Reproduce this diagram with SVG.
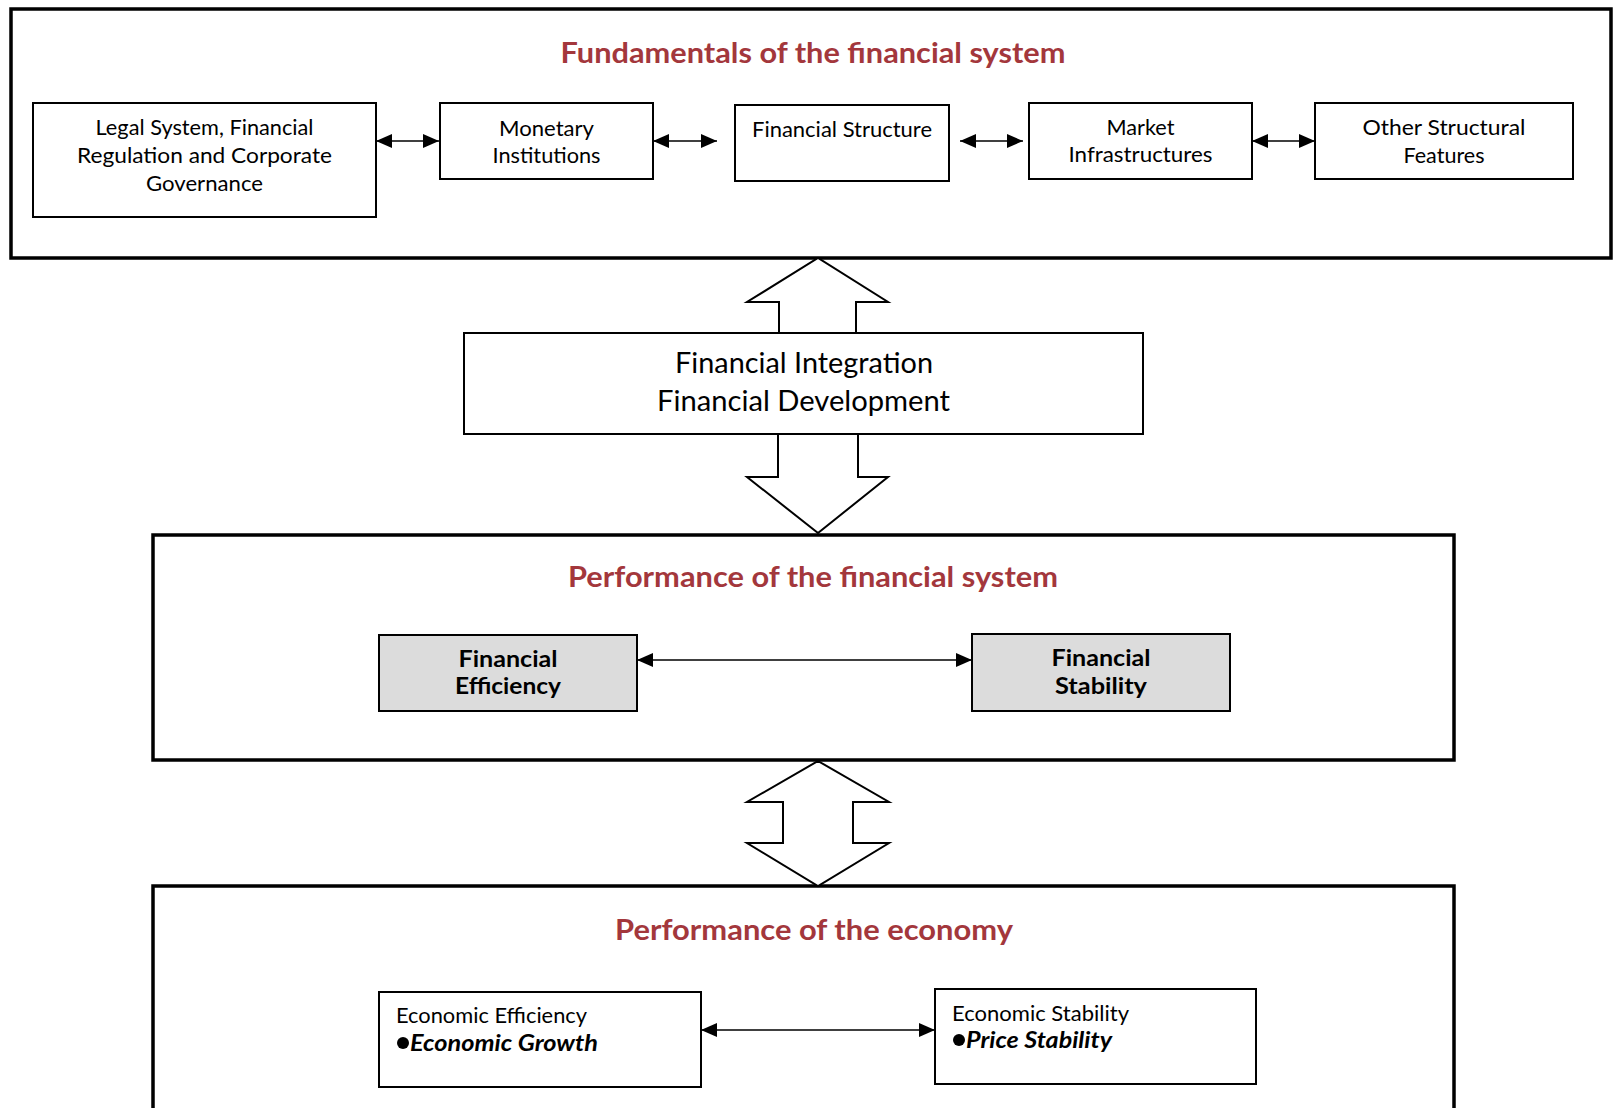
<svg xmlns="http://www.w3.org/2000/svg" width="1614" height="1108" viewBox="0 0 1614 1108">
<defs>
<marker id="ah" markerUnits="userSpaceOnUse" markerWidth="16" markerHeight="14" refX="16" refY="7" orient="auto-start-reverse" viewBox="0 0 16 14">
<path d="M0,0 L16,7 L0,14 z" fill="#000"/>
</marker>
<style>
.frame{fill:none;stroke:#000;stroke-width:3.5}
.box{fill:#fff;stroke:#000;stroke-width:2}
.gbox{fill:#dcdcdc;stroke:#000;stroke-width:2}
.big{fill:#fff;stroke:#000;stroke-width:2}
.conn{stroke:#000;stroke-width:1.6;fill:none;marker-start:url(#ah);marker-end:url(#ah)}
.t{font-family:Lato,"Noto Sans","Liberation Sans",sans-serif;fill:#000;text-anchor:middle}
.n{font-size:22px}
.title{font-size:28px;font-weight:bold;fill:#a3373c}
.b{font-weight:bold}
.l{text-anchor:start}
.bul{fill:#000}
</style>
</defs>
<rect width="1614" height="1108" fill="#fff"/>

<g id="fundamentals">
<rect class="frame" x="11" y="9" width="1600" height="249"/>
<text class="t title" x="813" y="63" textLength="505" lengthAdjust="spacingAndGlyphs">Fundamentals of the financial system</text>
</g>

<g id="legal">
<rect class="box" x="33" y="103" width="343" height="114"/>
<text class="t n" x="204.5" y="135" textLength="218" lengthAdjust="spacingAndGlyphs">Legal System, Financial</text>
<text class="t n" x="204.5" y="163" textLength="255" lengthAdjust="spacingAndGlyphs">Regulation and Corporate</text>
<text class="t n" x="204.5" y="191" textLength="117" lengthAdjust="spacingAndGlyphs">Governance</text>
</g>

<g id="monetary">
<rect class="box" x="440" y="103" width="213" height="76"/>
<text class="t n" x="546.5" y="136" textLength="95" lengthAdjust="spacingAndGlyphs">Monetary</text>
<text class="t n" x="546.5" y="163" textLength="108" lengthAdjust="spacingAndGlyphs">Institutions</text>
</g>

<g id="structure">
<rect class="box" x="735" y="105" width="214" height="76"/>
<text class="t n" x="842" y="137" textLength="180" lengthAdjust="spacingAndGlyphs">Financial Structure</text>
</g>

<g id="market">
<rect class="box" x="1029" y="103" width="223" height="76"/>
<text class="t n" x="1140.5" y="135" textLength="68" lengthAdjust="spacingAndGlyphs">Market</text>
<text class="t n" x="1140.5" y="162" textLength="144" lengthAdjust="spacingAndGlyphs">Infrastructures</text>
</g>

<g id="other">
<rect class="box" x="1315" y="103" width="258" height="76"/>
<text class="t n" x="1444" y="135" textLength="163" lengthAdjust="spacingAndGlyphs">Other Structural</text>
<text class="t n" x="1444" y="163" textLength="81" lengthAdjust="spacingAndGlyphs">Features</text>
</g>

<g id="integration">
<rect class="box" x="464" y="333" width="679" height="101"/>
<text class="t" font-size="29" x="804" y="373" textLength="258" lengthAdjust="spacingAndGlyphs">Financial Integration</text>
<text class="t" font-size="29" x="803.5" y="411" textLength="293" lengthAdjust="spacingAndGlyphs">Financial Development</text>
</g>

<g id="performance-financial">
<rect class="frame" x="153" y="535" width="1301" height="225"/>
<text class="t title" x="813" y="587" textLength="490" lengthAdjust="spacingAndGlyphs">Performance of the financial system</text>
</g>

<g id="efficiency">
<rect class="gbox" x="379" y="635" width="258" height="76"/>
<text class="t n b" x="508" y="667" textLength="99" lengthAdjust="spacingAndGlyphs">Financial</text>
<text class="t n b" x="508" y="694" textLength="106" lengthAdjust="spacingAndGlyphs">Efficiency</text>
</g>

<g id="stability">
<rect class="gbox" x="972" y="634" width="258" height="77"/>
<text class="t n b" x="1101" y="666" textLength="99" lengthAdjust="spacingAndGlyphs">Financial</text>
<text class="t n b" x="1101" y="694" textLength="92" lengthAdjust="spacingAndGlyphs">Stability</text>
</g>

<g id="performance-economy">
<rect class="frame" x="153" y="886" width="1301" height="240"/>
<text class="t title" x="814" y="940" textLength="398" lengthAdjust="spacingAndGlyphs">Performance of the economy</text>
</g>

<g id="econ-efficiency">
<rect class="box" x="379" y="992" width="322" height="95"/>
<text class="t n l" x="396" y="1023" textLength="191" lengthAdjust="spacingAndGlyphs">Economic Efficiency</text>
<circle class="bul" cx="403" cy="1043" r="6"/>
<text class="t n l b" font-style="italic" x="410" y="1051" textLength="188" lengthAdjust="spacingAndGlyphs">Economic Growth</text>
</g>

<g id="econ-stability">
<rect class="box" x="935" y="989" width="321" height="95"/>
<text class="t n l" x="952" y="1021" textLength="177" lengthAdjust="spacingAndGlyphs">Economic Stability</text>
<circle class="bul" cx="959" cy="1040" r="6"/>
<text class="t n l b" font-style="italic" x="966" y="1048" textLength="146" lengthAdjust="spacingAndGlyphs">Price Stability</text>
</g>

<g id="connectors">
<line class="conn" x1="376" y1="141" x2="439" y2="141"/>
<line class="conn" x1="653" y1="141" x2="717" y2="141"/>
<line class="conn" x1="960" y1="141" x2="1023" y2="141"/>
<line class="conn" x1="1252" y1="141" x2="1315" y2="141"/>
<line class="conn" x1="637" y1="660" x2="972" y2="660"/>
<line class="conn" x1="701" y1="1030" x2="935" y2="1030"/>
<polygon class="big" points="779,333 779,302 747,302 818,258 888,302 856,302 856,333"/>
<polygon class="big" points="778,434 778,477 747,477 818,533 888,477 858,477 858,434"/>
<polygon class="big" points="818,761 889,802 853,802 853,843 889,843 818,886 747,843 783,843 783,802 747,802"/>
</g>
</svg>
